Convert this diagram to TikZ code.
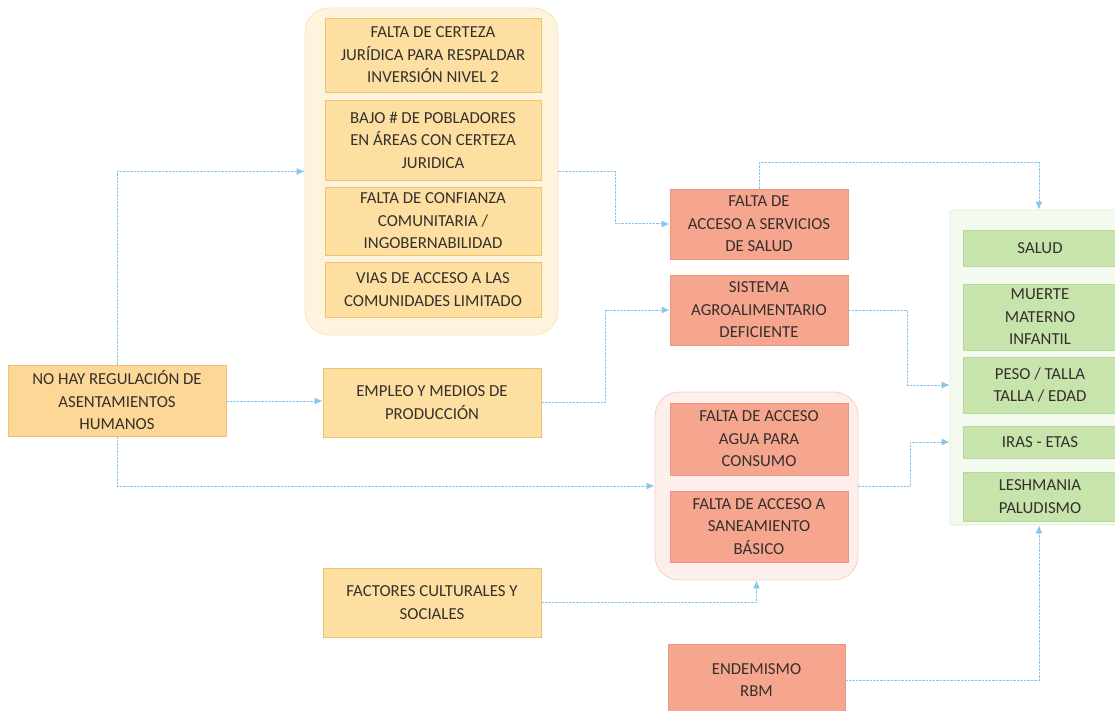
\documentclass[tikz,border=0pt]{standalone}
\usepackage{fontspec}
\setmainfont{Carlito}
\usetikzlibrary{arrows.meta}

\definecolor{ink}{HTML}{34302C}
\definecolor{linkblue}{HTML}{86C6EE}
\definecolor{yelfill}{HTML}{FDDFA2}
\definecolor{yeldraw}{HTML}{F1C36C}
\definecolor{redfill}{HTML}{F6A68F}
\definecolor{reddraw}{HTML}{EC9580}
\definecolor{grnfill}{HTML}{C8E4AD}
\definecolor{grndraw}{HTML}{B8D99A}

\begin{document}
\begin{tikzpicture}[x=1pt, y=-1pt,
        font=\fontsize{16.8}{22.5}\selectfont, text=ink,
        cause/.style={draw=yeldraw, fill=yelfill, line width=0.8pt, align=flush center,
            inner sep=0pt, minimum width=216pt, text width=212pt},
        effect/.style={draw=reddraw, fill=redfill, line width=0.8pt, align=flush center,
            inner sep=0pt, minimum width=178pt, text width=176pt},
        outcome/.style={draw=grndraw, fill=grnfill, line width=0.8pt, align=flush center,
            inner sep=0pt, minimum width=154pt, text width=150pt},
        group/.style={line width=0.8pt, rounded corners=24pt, inner sep=0pt},
        link/.style={draw=linkblue, line width=1pt, dash pattern=on 2.5pt off 1pt,
            -{Latex[length=8pt, width=7pt]}}]
    \useasboundingbox (0,0) rectangle (1115,711);

    % grouping panels
    \node[group, draw=yeldraw!45, fill=yelfill!35, minimum width=253pt, minimum height=327pt] (ygroup) at (431.5, 171.5) {};
    \node[group, draw=reddraw!45, fill=redfill!18, minimum width=203pt, minimum height=188pt] (rgroup) at (756.5, 486) {};
    \node[group, rounded corners=3pt, draw=grndraw!45, fill=grnfill!20, minimum width=178pt, minimum height=315pt] (ggroup) at (1039, 367.5) {};

    % causes
    \node[cause, fill=yelfill!92!orange, minimum width=218pt, minimum height=71pt] (nohay) at (117, 400.5) {NO HAY REGULACIÓN DE\\ASENTAMIENTOS\\HUMANOS};
    \node[cause, minimum height=74pt] (certeza) at (433, 55) {FALTA DE CERTEZA\\JURÍDICA PARA RESPALDAR\\INVERSIÓN NIVEL 2};
    \node[cause, minimum height=80pt] (pobladores) at (433, 140) {BAJO \# DE POBLADORES\\EN ÁREAS CON CERTEZA\\JURIDICA};
    \node[cause, minimum height=68pt] (confianza) at (433, 221) {FALTA DE CONFIANZA\\COMUNITARIA /\\INGOBERNABILIDAD};
    \node[cause, minimum height=55pt] (vias) at (433, 289.5) {VIAS DE ACCESO A LAS\\COMUNIDADES LIMITADO};
    \node[cause, minimum width=218pt, minimum height=69pt] (empleo) at (432, 402.5) {EMPLEO Y MEDIOS DE\\PRODUCCIÓN};
    \node[cause, minimum width=218pt, minimum height=69pt] (factores) at (432, 602.5) {FACTORES CULTURALES Y\\SOCIALES};

    % intermediate effects
    \node[effect, minimum height=70pt] (servicios) at (759, 224) {FALTA DE\\ACCESO A SERVICIOS\\DE SALUD};
    \node[effect, minimum height=70pt] (agro) at (759, 310) {SISTEMA\\AGROALIMENTARIO\\DEFICIENTE};
    \node[effect, minimum height=72pt] (agua) at (759, 439) {FALTA DE ACCESO\\AGUA PARA\\CONSUMO};
    \node[effect, minimum height=71pt] (saneamiento) at (759, 526.5) {FALTA DE ACCESO A\\SANEAMIENTO\\BÁSICO};
    \node[effect, minimum width=177pt, minimum height=72pt] (endemismo) at (756.5, 680) {ENDEMISMO\\RBM};

    % health outcomes
    \node[outcome, minimum height=36pt] (salud) at (1040, 248) {SALUD};
    \node[outcome, minimum height=66pt] (muerte) at (1040, 317) {MUERTE\\MATERNO\\INFANTIL};
    \node[outcome, minimum height=56pt] (peso) at (1040, 385) {PESO / TALLA\\TALLA / EDAD};
    \node[outcome, minimum height=32pt] (iras) at (1040, 442) {IRAS - ETAS};
    \node[outcome, minimum height=49pt] (leshmania) at (1040, 496.5) {LESHMANIA\\PALUDISMO};

    % connectors
    \draw[link] (nohay.north) |- (ygroup.west);
    \draw[link] (nohay.south) |- (rgroup.west);
    \draw[link] (nohay.east |- 0,401) -- (empleo.west |- 0,401);
    \draw[link] (ygroup.east) -- ++(57,0) |- (servicios.west);
    \draw[link] (servicios.north) -- ++(0,-26) -| (ggroup.north);
    \draw[link] (empleo.east) -- ++(64,0) |- (agro.west);
    \draw[link] (agro.east) -- ++(59,0) |- (ggroup.west |- peso);
    \draw[link] (rgroup.east) -- ++(52,0) |- (ggroup.west |- iras);
    \draw[link] (factores.east) -| (rgroup.south);
    \draw[link] (endemismo.east) -| (ggroup.south);
\end{tikzpicture}
\end{document}
